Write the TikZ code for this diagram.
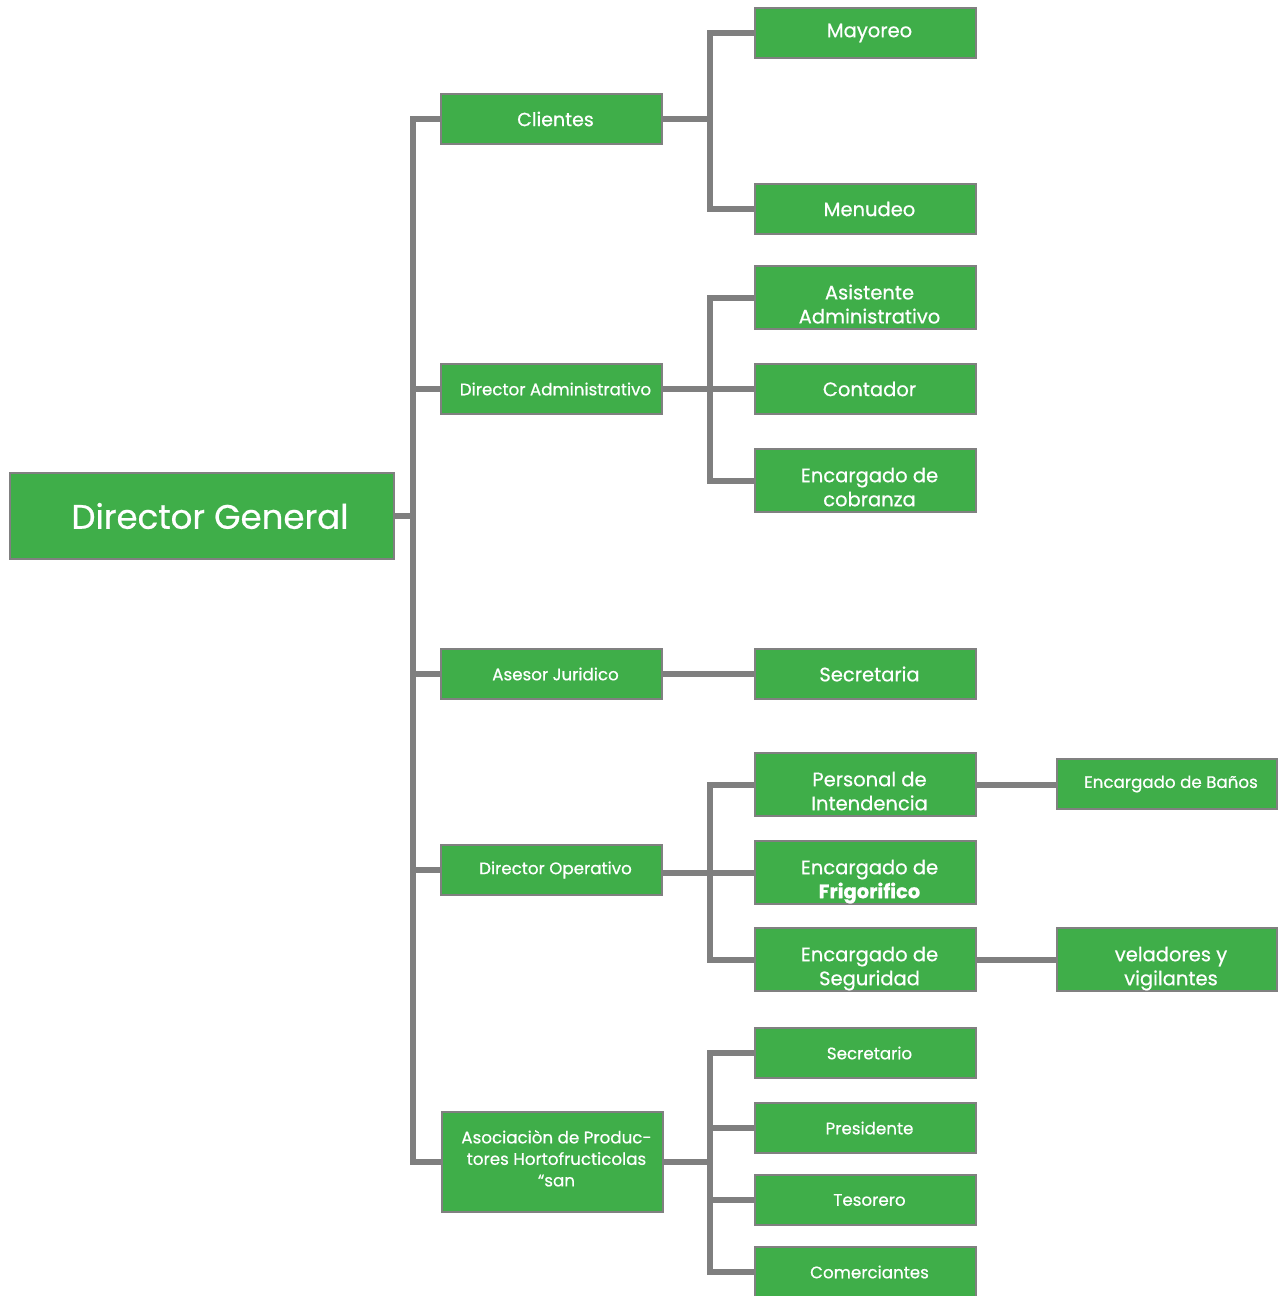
\documentclass[tikz,border=0pt]{standalone}
\usepackage{fontspec}
\setmainfont{Poppins}[FakeBold=0.6]
\usetikzlibrary{backgrounds}
\definecolor{boxgreen}{HTML}{3FAE49}
\definecolor{boxline}{HTML}{808080}
\definecolor{connline}{HTML}{7F7F7F}
\newcommand{\sh}{\hspace*{8pt}}
\newcommand{\dn}{\\[-37pt]}
\begin{document}
\begin{tikzpicture}[x=1pt,y=-1pt,
  box/.style={draw=boxline, line width=2pt, fill=boxgreen, text=white, inner sep=0pt, align=center,
    minimum width=221pt, minimum height=50pt, font=\fontsize{19.5}{24}\selectfont},
  tall/.style={minimum height=63pt},
  mid/.style={font=\fontsize{19}{24}\selectfont},
  small/.style={font=\fontsize{16.7}{21}\selectfont},
  conn/.style={draw=connline, line width=6pt, line join=miter}]
\useasboundingbox (0,0) rectangle (1278,1296);
\coordinate (t) at (413,0);
\coordinate (s) at (710,0);
% level 0
\node[box, minimum width=384pt, minimum height=86pt, font=\fontsize{34}{40}\selectfont] (dg) at (202,516) {\hspace*{16pt}Director General};
% level 1
\node[box, mid] (cli) at (551.5,119) {\sh Clientes};
\node[box, small] (adm) at (551.5,389) {\sh Director Administrativo};
\node[box, small] (ase) at (551.5,674) {\sh Asesor Juridico};
\node[box, small] (ope) at (551.5,870) {\sh Director Operativo};
\node[box, small, minimum height=100pt, font=\fontsize{16.7}{21.5}\selectfont] (aso) at (552.5,1162) {\sh Asociaciòn de Produc-\\\sh tores Hortofructicolas\\\sh “san\\[-14pt]};
% level 2
\node[box] (may) at (865.5,33) {\sh Mayoreo};
\node[box] (men) at (865.5,209) {\sh Menudeo};
\node[box, tall] (asi) at (865.5,297.5) {\sh Asistente\\\sh Administrativo\dn};
\node[box] (con) at (865.5,389) {\sh Contador};
\node[box, tall] (cob) at (865.5,480.5) {\sh Encargado de\\\sh cobranza\dn};
\node[box] (sec) at (865.5,674) {\sh Secretaria};
\node[box, tall] (per) at (865.5,784.5) {\sh Personal de\\\sh Intendencia\dn};
\node[box, tall] (fri) at (865.5,872.5) {\sh Encargado de\\\sh\textbf{Frigorifico}\dn};
\node[box, tall] (seg) at (865.5,959.5) {\sh Encargado de\\\sh Seguridad\dn};
\node[box, small] (sro) at (865.5,1053) {\sh Secretario};
\node[box, small] (pre) at (865.5,1128) {\sh Presidente};
\node[box, small] (tes) at (865.5,1200) {\sh Tesorero};
\node[box, small] (com) at (865.5,1272) {\sh Comerciantes};
% level 3
\node[box, small, minimum width=220pt] (ban) at (1167,784) {\sh Encargado de Baños};
\node[box, tall, minimum width=220pt] (vel) at (1167,959.5) {\sh veladores y\\\sh vigilantes\dn};
\begin{pgfonlayer}{background}
\fill[white] (0,0) rectangle (1278,1296);
% trunk
\draw[conn] (dg.east) -- (dg.east -| t);
\draw[conn] (cli.west) -- (cli.west -| t) -- (aso.west -| t) -- (aso.west);
\draw[conn] (adm.west) -- (adm.west -| t);
\draw[conn] (ase.west) -- (ase.west -| t);
\draw[conn] (ope.west) -- (ope.west -| t);
% clientes
\draw[conn] (cli.east) -- (cli.east -| s);
\draw[conn] (may.west) -- (may.west -| s) -- (men.west -| s) -- (men.west);
% administrativo
\draw[conn] (adm.east) -- (con.west);
\draw[conn] (asi.west) -- (asi.west -| s) -- (cob.west -| s) -- (cob.west);
% asesor
\draw[conn] (ase.east) -- (sec.west);
% operativo
\draw[conn] (ope.east |- fri.west) -- (fri.west);
\draw[conn] (per.west) -- (per.west -| s) -- (seg.west -| s) -- (seg.west);
\draw[conn] (per.east) -- (per.east -| ban.west);
\draw[conn] (seg.east) -- (vel.west);
% asociacion
\draw[conn] (aso.east) -- (aso.east -| s);
\draw[conn] (sro.west) -- (sro.west -| s) -- (com.west -| s) -- (com.west);
\draw[conn] (pre.west) -- (pre.west -| s);
\draw[conn] (tes.west) -- (tes.west -| s);
\end{pgfonlayer}
\end{tikzpicture}
\end{document}
